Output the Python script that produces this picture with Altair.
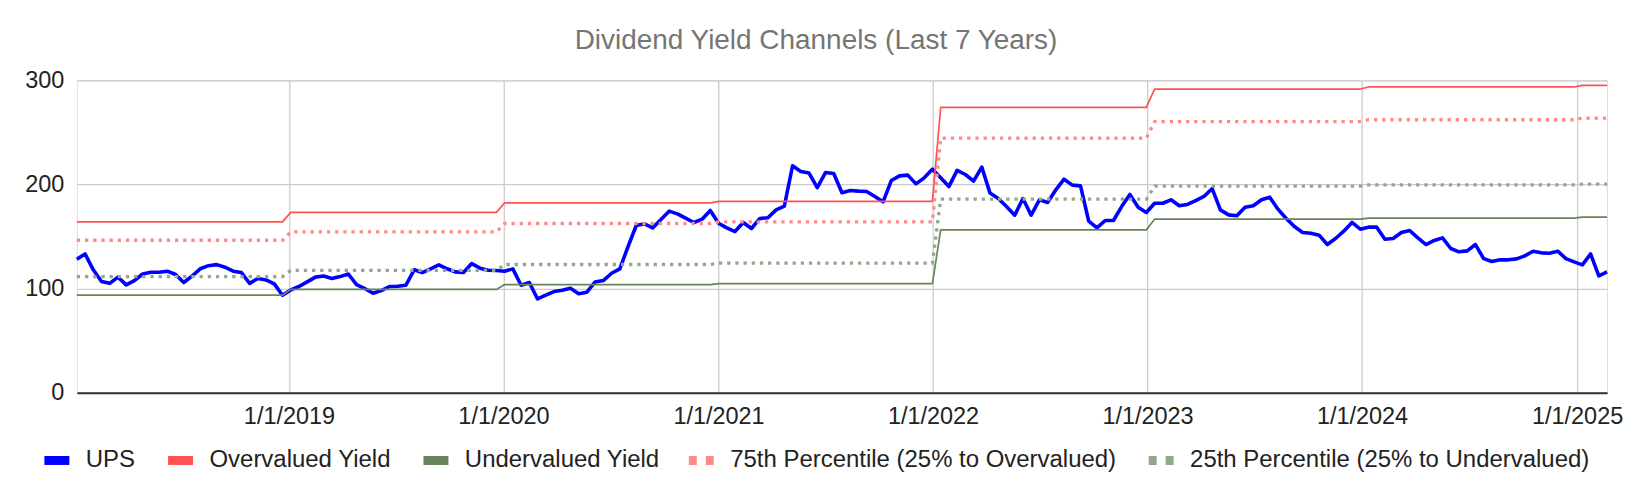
import altair as alt
import pandas as pd

FONT = "Liberation Sans, Arial, Helvetica, sans-serif"

# UPS dividend-yield channel value, biweekly from 2018-01-05
ups = [
    128.2, 133.3, 118.0, 106.7, 105.0, 111.0, 103.5, 107.7, 114.0, 115.7,
    115.7, 116.7, 113.5, 105.8, 112.0, 119.0, 122.0, 123.0, 120.5, 116.7,
    115.4, 105.0, 109.6, 108.3, 104.5, 93.6, 98.7, 102.0, 106.4, 111.0,
    112.0, 109.6, 111.5, 114.0, 103.8, 100.0, 95.5, 98.0, 102.0, 102.2,
    103.2, 118.0, 115.4, 119.0, 122.8, 119.0, 116.0, 115.4, 124.0, 119.6,
    117.6, 117.3, 116.7, 118.9, 103.2, 105.8, 90.0, 93.6, 97.1, 98.4,
    100.3, 95.0, 96.5, 106.4, 107.7, 114.7, 118.9, 140.4, 160.6, 162.2,
    158.3, 166.3, 174.4, 171.8, 167.6, 163.5, 166.7, 175.0, 162.8, 158.3,
    154.8, 163.5, 157.7, 167.3, 168.0, 175.6, 179.2, 218.0, 212.5, 211.0,
    197.0, 211.5, 210.5, 192.0, 194.2, 193.6, 193.3, 188.5, 183.3, 203.8,
    208.3, 209.0, 200.6, 206.4, 214.7, 206.4, 198.0, 213.5, 209.6, 203.2,
    216.7, 191.7, 186.5, 178.8, 170.5, 186.5, 170.5, 185.3, 182.7, 194.9,
    205.1, 199.4, 198.7, 164.7, 158.3, 165.4, 165.4, 178.8, 190.4, 178.2,
    173.1, 182.0, 182.0, 185.3, 179.5, 180.8, 184.6, 188.5, 196.0, 175.6,
    170.8, 169.9, 178.2, 179.5, 185.3, 187.8, 176.3, 167.3, 159.6, 153.8,
    153.2, 151.3, 142.3, 148.1, 155.1, 163.5, 157.1, 159.0, 159.0, 147.4,
    148.1, 153.8, 155.8, 148.7, 142.3, 146.2, 148.7, 138.5, 135.3, 136.2,
    142.3, 128.8, 126.0, 127.6, 127.6, 128.5, 131.4, 135.9, 134.3, 134.0,
    135.9, 128.8, 125.6, 122.8, 133.3, 112.2, 116.0,
]

# yearly channel levels
years = [2018, 2019, 2020, 2021, 2022, 2023, 2024, 2025]
overvalued = [164.1, 173.2, 182.4, 183.8, 274.0, 291.7, 293.7, 295.2]
p75 = [146.4, 154.4, 162.5, 164.1, 244.5, 260.3, 262.2, 263.8]
p25 = [111.5, 117.4, 123.1, 124.4, 185.9, 198.4, 199.7, 200.3]
undervalued = [93.6, 99.2, 103.8, 104.7, 156.4, 166.7, 167.6, 168.6]

solid_names = ["UPS", "Overvalued Yield", "Undervalued Yield"]
solid_colors = ["#0000ff", "#ff5252", "#68845a"]
dot_names = ["75th Percentile (25% to Overvalued)", "25th Percentile (25% to Undervalued)"]
dot_colors = ["#ff8a8a", "#93a88a"]

dates = pd.date_range("2018-01-05", periods=len(ups), freq="14D")
levels = {
    solid_names[1]: dict(zip(years, overvalued)),
    solid_names[2]: dict(zip(years, undervalued)),
    dot_names[0]: dict(zip(years, p75)),
    dot_names[1]: dict(zip(years, p25)),
}

ups_rows, band_rows, dot_rows = [], [], []
for i, d in enumerate(dates):
    ds = d.strftime("%Y-%m-%dT00:00:00")
    ups_rows.append({"series": solid_names[0], "date": ds, "value": ups[i]})
    for n in solid_names[1:]:
        band_rows.append({"series": n, "date": ds, "value": levels[n][d.year]})
    for n in dot_names:
        dot_rows.append({"pct": n, "date": ds, "value": levels[n][d.year]})
ups_df = pd.DataFrame(ups_rows)
band_df = pd.DataFrame(band_rows)
dot_df = pd.DataFrame(dot_rows)

tick_dates = [alt.DateTime(year=y, month=1, date=1) for y in range(2019, 2026)]

x_enc = alt.X(
    "date:T",
    scale=alt.Scale(
        domain=[alt.DateTime(year=2018, month=1, date=5),
                alt.DateTime(year=2025, month=2, date=21)],
        nice=False,
    ),
    axis=alt.Axis(
        values=tick_dates,
        format="%-m/%-d/%Y",
        title=None,
        ticks=False,
        labelFlush=False,
        labelFontSize=23.5,
        labelFont=FONT,
        labelColor="#222222",
        labelPadding=12,
        domainColor="#333333",
        domainWidth=2,
        gridColor="#cccccc",
        gridWidth=1.3,
    ),
)
y_enc = alt.Y(
    "value:Q",
    scale=alt.Scale(domain=[0, 300], nice=False),
    axis=alt.Axis(
        values=[0, 100, 200, 300],
        title=None,
        ticks=False,
        domain=False,
        labelFontSize=23.5,
        labelFont=FONT,
        labelColor="#222222",
        labelPadding=13,
        gridColor="#cccccc",
        gridWidth=1.3,
    ),
)

legend_common = dict(
    title=None,
    orient="none",
    direction="horizontal",
    symbolType="stroke",
    symbolSize=625,
    symbolStrokeWidth=9,
    labelFontSize=24,
    labelFont=FONT,
    labelColor="#222222",
    labelLimit=800,
    labelOffset=12,
    columnPadding=14,
)

color_enc = alt.Color(
    "series:N",
    scale=alt.Scale(domain=solid_names, range=solid_colors),
    legend=alt.Legend(legendX=-37, legendY=364, **legend_common),
)

bands = (
    alt.Chart(band_df)
    .mark_line(strokeCap="butt", strokeJoin="round", strokeWidth=1.7)
    .encode(x=x_enc, y=y_enc, color=color_enc)
)

ups_line = (
    alt.Chart(ups_df)
    .mark_line(strokeCap="butt", strokeJoin="round", strokeWidth=3.6)
    .encode(x=x_enc, y=y_enc, color=color_enc)
)

dotted = (
    alt.Chart(dot_df)
    .mark_line(strokeCap="butt", strokeDash=[3.3, 4.9], strokeWidth=3.3)
    .encode(
        x=x_enc,
        y=y_enc,
        stroke=alt.Stroke(
            "pct:N",
            scale=alt.Scale(domain=dot_names, range=dot_colors),
            legend=alt.Legend(legendX=609, legendY=364, symbolDash=[8, 9], **legend_common),
        ),
    )
)

chart = (
    alt.layer(ups_line, bands, dotted)
    .properties(
        width=1534,
        height=313,
        padding={"left": 16, "top": 19, "right": 5, "bottom": 5},
        title=alt.TitleParams(
            "Dividend Yield Channels (Last 7 Years)",
            fontSize=28,
            font=FONT,
            fontWeight="normal",
            color="#757575",
            anchor="middle",
            frame="group",
            dx=-26,
            offset=13,
        ),
    )
    .configure_view(stroke=None)
    .configure(background="white")
)

chart.save("out.html", embed_options={"renderer": "svg", "actions": False})
